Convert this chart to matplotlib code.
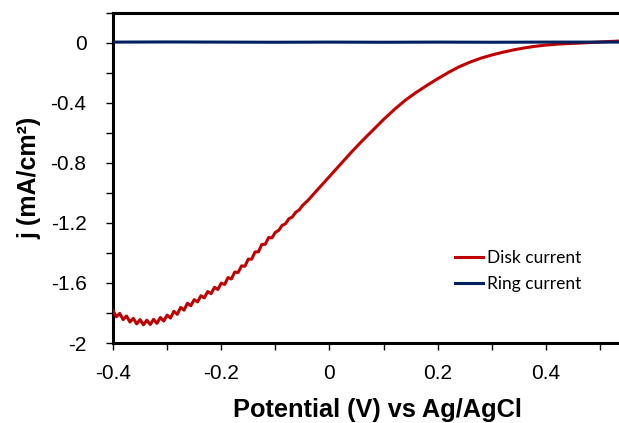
import matplotlib
matplotlib.use("Agg")
import matplotlib.pyplot as plt
from matplotlib.ticker import MultipleLocator, FuncFormatter

# ── Data (potential in V vs Ag/AgCl, j in mA/cm2) ──
# low-potential part is sampled finely to keep the ripple seen in the scan
disk_v = [-0.40000, -0.39375, -0.38750, -0.38125, -0.37500, -0.36875, -0.36250,
          -0.35625, -0.35000, -0.34375, -0.33750, -0.33125, -0.32500, -0.31875,
          -0.31250, -0.30625, -0.30000, -0.29375, -0.28750, -0.28125, -0.27500,
          -0.26875, -0.26250, -0.25625, -0.25000, -0.24375, -0.23750, -0.23125,
          -0.22500, -0.21875, -0.21250, -0.20625, -0.20000, -0.19375, -0.18750,
          -0.18125, -0.17500, -0.16875, -0.16250, -0.15625, -0.15000, -0.14375,
          -0.13750, -0.13125, -0.12500, -0.11875, -0.11250, -0.10625, -0.10000,
          -0.09375, -0.08750, -0.08125, -0.07500, -0.06875, -0.06250, -0.05625,
          -0.05000, -0.04, -0.02, 0.00, 0.02, 0.04, 0.06, 0.08, 0.10,
          0.12, 0.14, 0.16, 0.18, 0.20, 0.22, 0.24, 0.26, 0.28, 0.30,
          0.32, 0.34, 0.36, 0.38, 0.40, 0.42, 0.44, 0.46, 0.48, 0.50, 0.535]
disk_j = [-1.784, -1.825, -1.803, -1.844, -1.820, -1.860, -1.836,
          -1.873, -1.844, -1.879, -1.848, -1.877, -1.842, -1.869,
          -1.830, -1.854, -1.814, -1.834, -1.789, -1.809, -1.763,
          -1.781, -1.735, -1.752, -1.711, -1.726, -1.685, -1.699,
          -1.657, -1.671, -1.629, -1.643, -1.601, -1.610, -1.564,
          -1.573, -1.527, -1.530, -1.486, -1.488, -1.441, -1.441,
          -1.393, -1.392, -1.343, -1.342, -1.297, -1.299, -1.262,
          -1.249, -1.216, -1.205, -1.172, -1.160, -1.129, -1.114,
          -1.084, -1.05, -0.97, -0.89, -0.81, -0.73, -0.654, -0.582, -0.51,
          -0.443, -0.382, -0.330, -0.283, -0.238, -0.196, -0.158, -0.127, -0.101, -0.080,
          -0.062, -0.046, -0.033, -0.022, -0.014, -0.008, -0.004, -0.001, 0.003, 0.007, 0.013]

ring_v = [-0.40, -0.30, -0.20, -0.10, 0.00, 0.10, 0.20, 0.30, 0.40, 0.535]
ring_j = [0.006, 0.007, 0.006, 0.005, 0.006, 0.005, 0.006, 0.005, 0.006, 0.006]

DISK_COLOR = "#C00000"
RING_COLOR = "#002060"

plt.rcParams["font.family"] = ["Liberation Sans", "DejaVu Sans"]

fig = plt.figure(figsize=(6.19, 4.23), dpi=100)
ax = fig.add_axes([113 / 619, 80 / 423, 506 / 619, 330 / 423])

ax.plot(disk_v, disk_j, color=DISK_COLOR, lw=2.2, label="Disk current", zorder=3)
ax.plot(ring_v, ring_j, color=RING_COLOR, lw=2.2, label="Ring current", zorder=4)

ax.set_xlim(-0.4, 0.535)
ax.set_ylim(-2.0, 0.2)

ax.xaxis.set_major_locator(MultipleLocator(0.2))
ax.xaxis.set_minor_locator(MultipleLocator(0.1))
ax.yaxis.set_major_locator(MultipleLocator(0.4))
ax.yaxis.set_minor_locator(MultipleLocator(0.2))

fmt = FuncFormatter(lambda v, _: f"{round(v, 2):g}")
ax.xaxis.set_major_formatter(fmt)
ax.yaxis.set_major_formatter(fmt)

for side in ("left", "bottom", "top"):
    ax.spines[side].set_linewidth(2.2)
ax.spines["right"].set_visible(False)

ax.tick_params(axis="both", which="both", direction="out", width=1.0,
               length=5, labelsize=15, colors="black")
ax.tick_params(axis="x", which="both", top=False, pad=10)
ax.tick_params(axis="y", which="both", right=False, pad=14)

ax.set_xlabel("Potential (V) vs Ag/AgCl", fontsize=18.3, fontweight="bold")
ax.xaxis.set_label_coords((377 - 113) / 506, -0.168)
ax.set_ylabel("j (mA/cm²)", fontsize=18, fontweight="bold", labelpad=7)

leg = ax.legend(loc="center left", bbox_to_anchor=(0.676, 0.218), frameon=False,
                borderpad=0, borderaxespad=0, handlelength=1.6, handletextpad=0.23,
                labelspacing=0.55, prop={"family": ["Lato", "DejaVu Sans"], "size": 12.5})

fig.savefig("out.png", dpi=100)
